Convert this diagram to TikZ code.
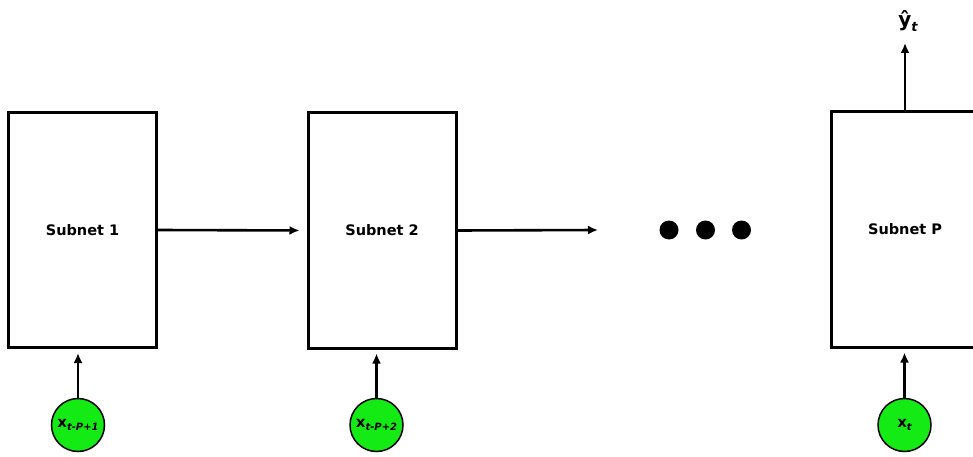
\documentclass[tikz,border=0pt]{standalone}
\usepackage{fontspec}
\setmainfont{DejaVu Sans}
\usetikzlibrary{arrows.meta}
\definecolor{inputgreen}{RGB}{20,235,20}
\newcommand{\subs}[2][10]{\raisebox{-0.4ex}{\fontsize{#1}{#1}\selectfont\bfseries\itshape #2}}
\tikzset{
  subnet/.style={draw, line width=3pt, fill=white, minimum width=148pt, minimum height=235pt,
    inner sep=0pt, font=\fontsize{14.5}{16}\selectfont\bfseries},
  inputnode/.style={circle, draw, line width=1.5pt, fill=inputgreen, minimum size=53pt, inner sep=0pt,
    font=\fontsize{15}{16}\selectfont\bfseries},
  flow/.style={-{Latex[length=10pt,width=9pt]}, line width=2.6pt},
  dotmark/.style={circle, fill=black, minimum size=19pt, inner sep=0pt}
}
\begin{document}
\begin{tikzpicture}[x=1pt, y=-1pt]
  \useasboundingbox (0,0) rectangle (973,457);
  \clip (0,0) rectangle (973,457);

  % subnet blocks
  \node[subnet] (b1) at (82.5,230) {Subnet 1};
  \node[subnet] (b2) at (382,230.5) {Subnet 2};
  \node[subnet] (b3) at (905,229.5) {Subnet P};

  % ellipsis between the blocks
  \node[dotmark] (d1) at (669,230) {};
  \node[dotmark] (d2) at (705.5,230) {};
  \node[dotmark] (d3) at (741.5,230) {};
  \coordinate (gapend) at (598,230);

  % inputs
  \node[inputnode] (x1) at (78,425) {x\subs{t-P+1}};
  \node[inputnode] (x2) at (376.5,425) {x\subs{t-P+2}};
  \node[inputnode] (x3) at (904.5,425) {x\subs{t}};

  % output label
  \coordinate (outend) at (905,43);
  \node[font=\fontsize{20}{21}\selectfont\bfseries] (yhat) at (908,21) {ŷ\subs[13]{t}};

  % connectors
  \draw[flow, shorten >=7pt] (b1.east) -- (b2.west);
  \draw[flow] (b2.east) -- (gapend);
  \draw[flow, shorten >=4pt] (x1.north) -- (x1.north |- b1.south);
  \draw[flow, shorten >=4pt] (x2.north) -- (x2.north |- b2.south);
  \draw[flow, shorten >=4pt] (x3.north) -- (x3.north |- b3.south);
  \draw[flow] (b3.north) -- (outend);
\end{tikzpicture}
\end{document}
